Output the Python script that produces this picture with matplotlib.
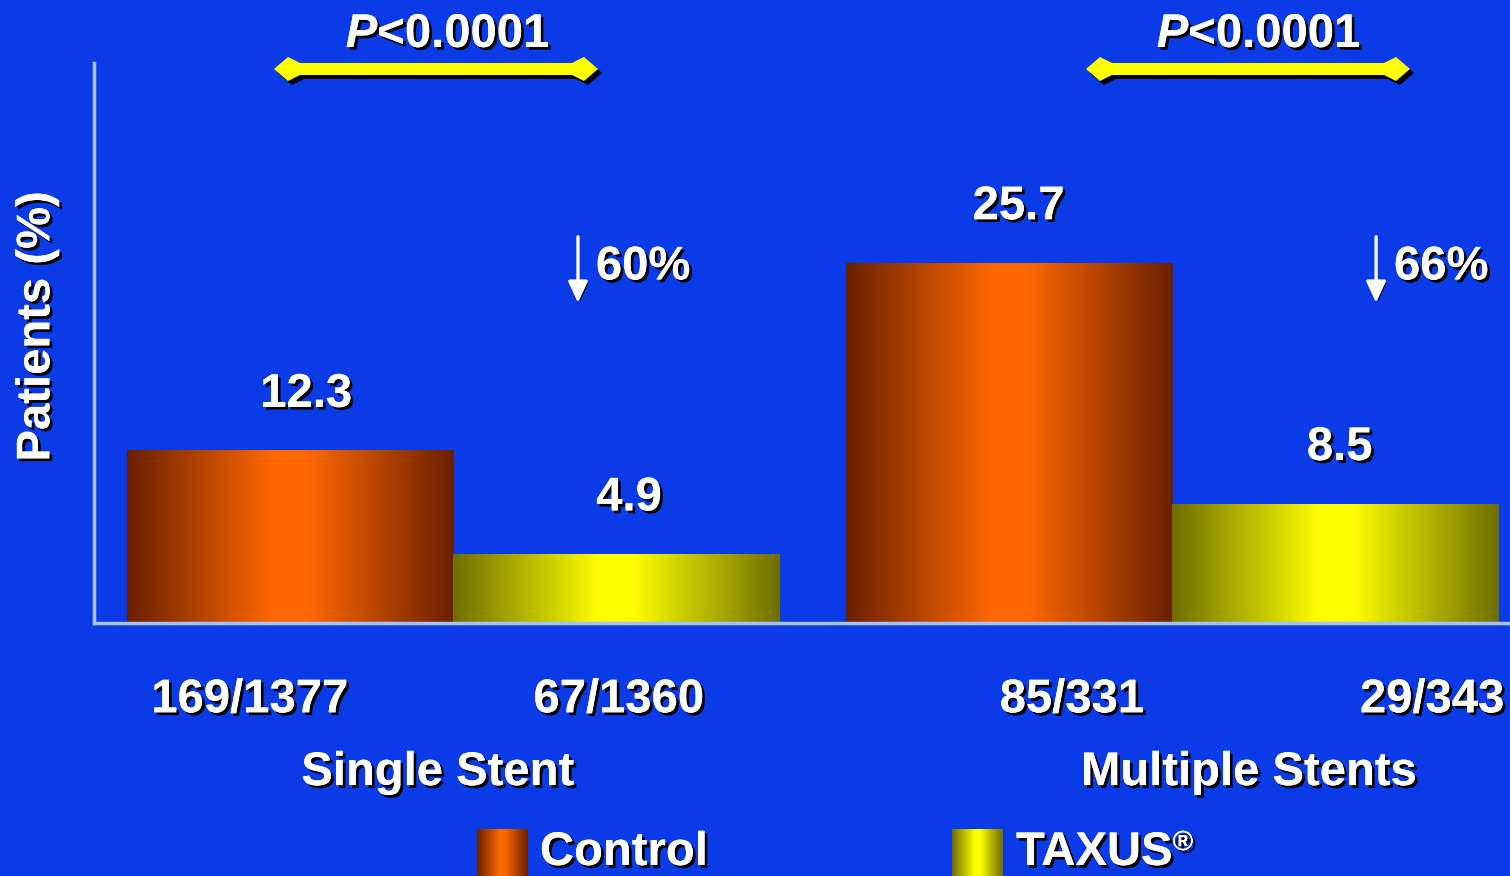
import numpy as np
import matplotlib
matplotlib.use('Agg')
import matplotlib.pyplot as plt
import matplotlib.patheffects as pe
from matplotlib.colors import LinearSegmentedColormap
from matplotlib.patches import Polygon

# data
groups = ['Single Stent', 'Multiple Stents']
control = [12.3, 25.7]
taxus = [4.9, 8.5]
control_counts = ['169/1377', '85/331']
taxus_counts = ['67/1360', '29/343']
reductions = ['60%', '66%']
p_values = ['$P$<0.0001', '$P$<0.0001']

BG = '#0a3be6'
W, H = 1510, 876

plt.rcParams['font.family'] = ['Liberation Sans', 'DejaVu Sans']
plt.rcParams['font.weight'] = 'bold'
plt.rcParams['mathtext.fontset'] = 'custom'
plt.rcParams['mathtext.it'] = 'Liberation Sans:bold:italic'
plt.rcParams['mathtext.rm'] = 'Liberation Sans:bold'

shadow = [pe.withSimplePatchShadow(offset=(2, -2), shadow_rgbFace='black', alpha=1.0), pe.Normal()]

control_cmap = LinearSegmentedColormap.from_list(
    'ctrl', [(0, '#6a2000'), (0.45, '#ff6800'), (0.55, '#ff6800'), (1, '#6a2000')])
taxus_cmap = LinearSegmentedColormap.from_list(
    'tax', [(0, '#6e6e00'), (0.45, '#ffff00'), (0.55, '#ffff00'), (1, '#6e6e00')])
grad = np.linspace(0, 1, 256).reshape(1, -1)


def px2fig(x, y):
    return x / W, 1 - y / H


def gradient_bar(ax, x0, width, height, cmap):
    ax.imshow(grad, cmap=cmap, extent=(x0, x0 + width, 0, height),
              aspect='auto', zorder=2, interpolation='bicubic')


def double_arrow(fig, x0, x1, y):
    # yellow bar with diamond ends, black drop shadow
    pts = [(x0, y), (x0 + 14, y - 12), (x0 + 26, y - 6), (x1 - 26, y - 6),
           (x1 - 14, y - 12), (x1, y), (x1 - 14, y + 12), (x1 - 26, y + 6),
           (x0 + 26, y + 6), (x0 + 14, y + 12)]
    for dx, col in [(4, 'black'), (0, '#ffff00')]:
        p = Polygon([px2fig(px + dx, py + dx) for px, py in pts], closed=True,
                    transform=fig.transFigure, facecolor=col, edgecolor='none')
        fig.patches.append(p)


fig = plt.figure(figsize=(W / 100, H / 100), dpi=100, facecolor=BG)
ax = fig.add_axes([94 / W, 1 - 623 / H, 1 - 94 / W, 560 / H])
ax.set_facecolor(BG)

centers = np.array([0.0, 2.205])
width = 1.0
ctrl_dx = [0.05, 0.03]
tax_dx = [0.04, 0.015]
for i, c in enumerate(centers):
    gradient_bar(ax, c - width, width, control[i], control_cmap)
    gradient_bar(ax, c, width, taxus[i], taxus_cmap)
    ax.text(c - 0.5 + ctrl_dx[i], control[i] + 4.0, '{}'.format(control[i]), ha='center', va='center',
            fontsize=34, color='white', path_effects=shadow)
    ax.text(c + 0.5 + tax_dx[i], taxus[i] + 4.0, '{}'.format(taxus[i]), ha='center', va='center',
            fontsize=34, color='white', path_effects=shadow)

ax.set_xlim(-1.101, 3.242)
ax.set_ylim(0, 40)

for s in ['top', 'right']:
    ax.spines[s].set_visible(False)
for s in ['left', 'bottom']:
    ax.spines[s].set_color('#a8c0ff')
    ax.spines[s].set_linewidth(2.5)
ax.set_xticks([])
ax.set_yticks([])

# counts under bars
count_x = [(250 - 453) / 326, (619 - 453) / 326, (1072 - 453) / 326, (1432 - 453) / 326]
counts = [control_counts[0], taxus_counts[0], control_counts[1], taxus_counts[1]]
for x, lab in zip(count_x, counts):
    ax.text(x, -0.138, lab, transform=ax.get_xaxis_transform(), ha='center', va='center',
            fontsize=34, color='white', path_effects=shadow, clip_on=False)

group_x = [(438 - 453) / 326, (1249 - 453) / 326]
for x, lab in zip(group_x, groups):
    ax.text(x, -0.268, lab, transform=ax.get_xaxis_transform(), ha='center', va='center',
            fontsize=34, color='white', path_effects=shadow, clip_on=False)

ax.text(-0.04, 0.53, 'Patients (%)', transform=ax.transAxes, rotation=90, ha='center', va='center',
        fontsize=34, color='white', path_effects=shadow)

# reduction arrows
arrow_x = [(578 - 453) / 326, (1376 - 453) / 326]
for x, lab in zip(arrow_x, reductions):
    ax.annotate('', xy=(x, 22.9), xytext=(x, 27.6),
                arrowprops=dict(arrowstyle='-|>,head_length=1.3,head_width=0.6',
                                color='white', lw=2, shrinkA=0, shrinkB=0,
                                path_effects=[pe.withSimplePatchShadow(offset=(1.5, -1.5), shadow_rgbFace='black', alpha=1.0), pe.Normal()]))
    ax.text(x + 0.055, 25.4, lab, ha='left', va='center', fontsize=34, color='white',
            path_effects=shadow)

# p-values with bracket arrows
p_x = [448, 1259]
arrow_spans = [(274, 598), (1086, 1410)]
for px, (a0, a1), lab in zip(p_x, arrow_spans, p_values):
    fx, fy = px2fig(px, 35)
    fig.text(fx, fy, lab, ha='center', va='center', fontsize=34, color='white',
             path_effects=shadow)
    double_arrow(fig, a0, a1, 69)

# legend
for x0, cmap in [(477, control_cmap), (952, taxus_cmap)]:
    lax = fig.add_axes([x0 / W, 0, 51 / W, 47 / H])
    lax.imshow(grad, cmap=cmap, aspect='auto', interpolation='bicubic')
    lax.axis('off')
fx, fy = px2fig(540, 853)
fig.text(fx, fy, 'Control', ha='left', va='center', fontsize=34, color='white', path_effects=shadow)
fx, fy = px2fig(1016, 853)
t = fig.text(fx, fy, 'TAXUS', ha='left', va='center', fontsize=34, color='white', path_effects=shadow)
ax.annotate('®', xy=(1, 1.02), xycoords=t, ha='left', va='top', fontsize=20, color='white',
            path_effects=shadow)

fig.savefig('out.png', dpi=100, facecolor=BG)
